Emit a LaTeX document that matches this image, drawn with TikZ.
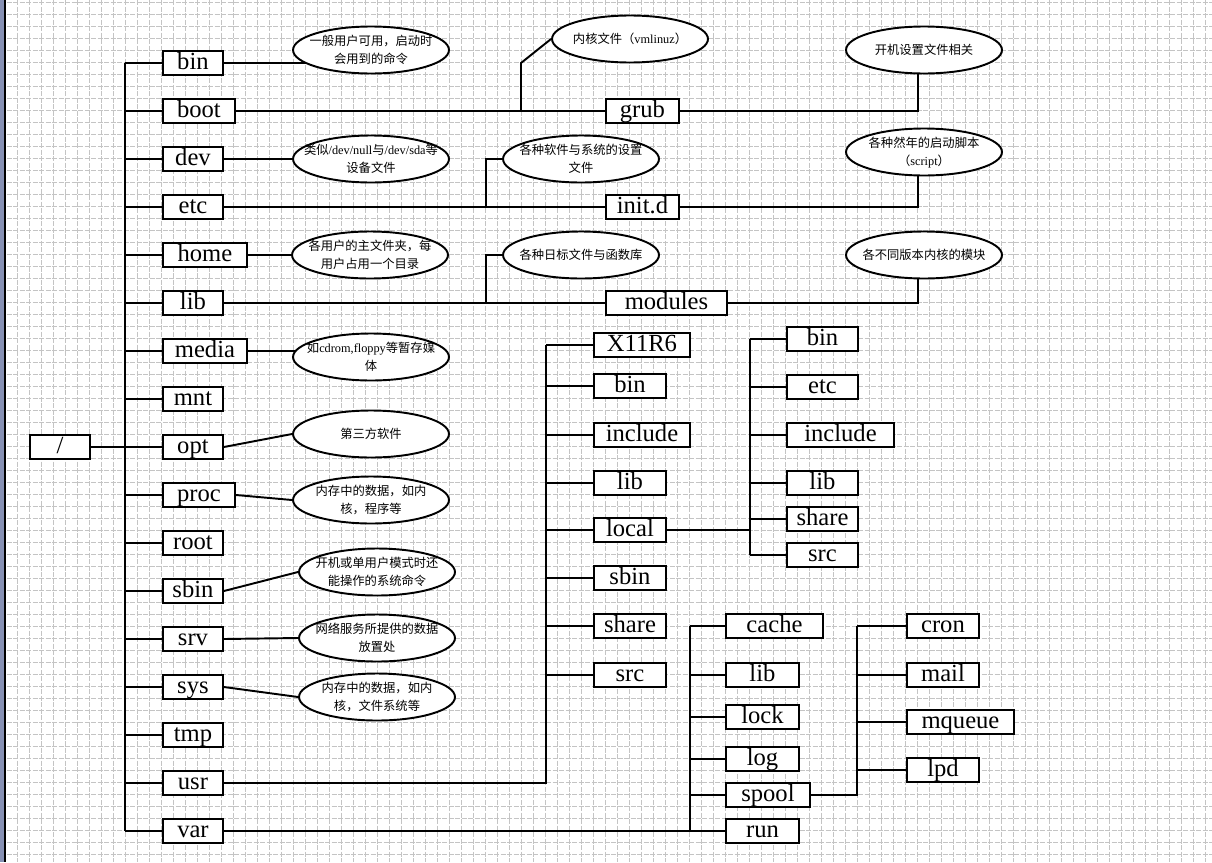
\documentclass[tikz,border=0pt]{standalone}
\usepackage{fontspec}
\setmainfont{Liberation Serif}
\newfontfamily\cjk{Noto Sans CJK SC}
\usetikzlibrary{shapes.geometric}
\pgfdeclarelayer{grid}
\pgfdeclarelayer{lines}
\pgfsetlayers{grid,lines,main}
\definecolor{gridgray}{RGB}{196,196,196}
\definecolor{barblue}{RGB}{135,145,180}
\newcommand{\etxt}[1]{\smash{\makebox[0pt]{\raisebox{-2.4pt}{\begin{tabular}{@{}c@{}}#1\end{tabular}}}}}
\tikzset{
  dirbox/.style={draw, fill=white, line width=1.1pt, anchor=west, inner sep=0pt,
    minimum height=0.48cm, text height=10pt, text depth=3pt, font=\fontsize{14}{14}\selectfont},
  note/.style={ellipse, draw, fill=white, line width=1.1pt, inner sep=0pt,
    minimum width=3.12cm, minimum height=0.94cm, font=\cjk\fontsize{7}{10}\selectfont},
  link/.style={line width=1.1pt}
}
\begin{document}
\begin{tikzpicture}[x=0.02cm, y=-0.02cm]
\useasboundingbox (0,0) rectangle (1212,862);
\begin{pgfonlayer}{grid}
\fill[white] (0,0) rectangle (1212,862);
\foreach \x in {5,17,...,1205} \draw[gridgray, line width=0.45pt, dash pattern=on 3pt off 0.7pt] (\x,0) -- (\x,862);
\foreach \y in {2,14,...,860} \draw[gridgray, line width=0.45pt, dash pattern=on 3pt off 0.7pt] (0,\y) -- (1212,\y);
\fill[barblue] (0,0) rectangle (4.5,862);
\draw[line width=0.8pt] (5,0) -- (5,862);
\end{pgfonlayer}

\node[dirbox, minimum width=1.2cm] (slash) at (29,447) {/};
\foreach \n/\w [count=\i] in {bin/1.2, boot/1.44, dev/1.2, etc/1.2, home/1.68, lib/1.2, media/1.68, mnt/1.2, opt/1.2,
  proc/1.44, root/1.2, sbin/1.2, srv/1.2, sys/1.2, tmp/1.2, usr/1.2, var/1.2}
  \node[dirbox, minimum width=\w cm] (\n) at (162,15+48*\i) {\n};

\node[dirbox, minimum width=1.46cm] (grub) at (605,111) {grub};
\node[dirbox, minimum width=1.46cm] (initd) at (605,207) {init.d};
\node[dirbox, minimum width=2.42cm] (modules) at (605,303) {modules};

\foreach \n/\t/\w/\y in {ux/X11R6/1.92/345, ubin/bin/1.44/386, uinc/include/1.92/435, ulib/lib/1.44/483,
  ulocal/local/1.44/530, usbin/sbin/1.44/578, ushare/share/1.44/626, usrc/src/1.44/675}
  \node[dirbox, minimum width=\w cm] (\n) at (593,\y) {\t};
\foreach \n/\t/\w/\y in {lbin/bin/1.42/339, letc/etc/1.42/387, linc/include/2.14/435, llib/lib/1.42/483,
  lshare/share/1.42/519, lsrc/src/1.42/555}
  \node[dirbox, minimum width=\w cm] (\n) at (786,\y) {\t};
\foreach \n/\t/\w/\y in {vcache/cache/1.94/626, vlib/lib/1.46/675, vlock/lock/1.46/717, vlog/log/1.46/759,
  vspool/spool/1.68/795, vrun/run/1.46/831}
  \node[dirbox, minimum width=\w cm] (\n) at (725,\y) {\t};
\foreach \n/\t/\w/\y in {scron/cron/1.44/626, smail/mail/1.44/675, smq/mqueue/2.14/722, slpd/lpd/1.44/770}
  \node[dirbox, minimum width=\w cm] (\n) at (906,\y) {\t};

\node[note] (ebin) at (371,50) {\etxt{一般用户可用，启动时\\会用到的命令}};
\node[note] (edev) at (371,159) {\etxt{类似\rmfamily/dev/null\cjk 与\rmfamily/dev/sda\cjk 等\\设备文件}};
\node[note] (ehome) at (370,255) {\etxt{各用户的主文件夹，每\\用户占用一个目录}};
\node[note] (emedia) at (371,357) {\etxt{如\rmfamily cdrom,floppy\cjk 等暂存媒\\体}};
\node[note] (eopt) at (371,434) {\etxt{第三方软件}};
\node[note] (eproc) at (371,500) {\etxt{内存中的数据，如内\\核，程序等}};
\node[note] (esbin) at (377,572) {\etxt{开机或单用户模式时还\\能操作的系统命令}};
\node[note] (esrv) at (377,638) {\etxt{网络服务所提供的数据\\放置处}};
\node[note] (esys) at (377,697) {\etxt{内存中的数据，如内\\核，文件系统等}};
\node[note] (ekernel) at (630,39) {\etxt{内核文件（\rmfamily vmlinuz\cjk ）}};
\node[note] (egrub) at (924,50) {\etxt{开机设置文件相关}};
\node[note] (eetc) at (581,159) {\etxt{各种软件与系统的设置\\文件}};
\node[note] (einitd) at (924,152) {\etxt{各种然年的启动脚本\\（\rmfamily script\cjk ）}};
\node[note] (elib) at (581,255) {\etxt{各种日标文件与函数库}};
\node[note] (emod) at (924,255) {\etxt{各不同版本内核的模块}};

\begin{pgfonlayer}{lines}
\begin{scope}[link]
\coordinate (trunk) at (125,0);
\draw (slash.east) -- (opt.west);
\draw (bin.west -| trunk) -- (var.west -| trunk);
\foreach \n in {bin,boot,dev,etc,home,lib,media,mnt,opt,proc,root,sbin,srv,sys,tmp,usr,var}
  \draw (\n.west) -- (\n.west -| trunk);

\draw (bin.east) -- (bin.east -| ebin);
\draw (dev.east) -- (edev.west);
\draw (home.east) -- (ehome.west);
\draw (media.east) -- (media.east -| emedia);
\draw (opt.east) -- (eopt.west);
\draw (proc.east) -- (eproc.west);
\draw (sbin.east) -- (esbin.west);
\draw (srv.east) -- (esrv.west);
\draw (sys.east) -- (esys.west);

\draw (boot.east) -- (grub.west);
\draw (grub.east) -| ([xshift=-0.12cm]egrub.south);
\coordinate (kfork) at (521,111);
\draw (kfork) -- ++(0,-48) -- (ekernel.west);
\draw (etc.east) -- (initd.west);
\draw (initd.east) -| ([xshift=-0.12cm]einitd.south);
\coordinate (efork) at (486,207);
\draw (efork) |- (eetc.west);
\draw (lib.east) -- (modules.west);
\draw (modules.east) -| ([xshift=-0.12cm]emod.south);
\coordinate (lfork) at (486,303);
\draw (lfork) |- (elib.west);

\coordinate (utrunk) at (546,0);
\draw (usr.east) -| (ux.west -| utrunk);
\foreach \n in {ux,ubin,uinc,ulib,ulocal,usbin,ushare,usrc}
  \draw (\n.west) -- (\n.west -| utrunk);
\coordinate (ltrunk) at (750,0);
\draw (ulocal.east) -- (ulocal.east -| ltrunk);
\draw (lbin.west -| ltrunk) -- (lsrc.west -| ltrunk);
\foreach \n in {lbin,letc,linc,llib,lshare,lsrc}
  \draw (\n.west) -- (\n.west -| ltrunk);

\coordinate (vtrunk) at (690,0);
\draw (var.east) -- (vrun.west);
\draw (vcache.west -| vtrunk) -- (vrun.west -| vtrunk);
\foreach \n in {vcache,vlib,vlock,vlog,vspool}
  \draw (\n.west) -- (\n.west -| vtrunk);
\coordinate (strunk) at (857,0);
\draw (vspool.east) -| (scron.west -| strunk);
\foreach \n in {scron,smail,smq,slpd}
  \draw (\n.west) -- (\n.west -| strunk);
\end{scope}
\end{pgfonlayer}
\end{tikzpicture}
\end{document}
